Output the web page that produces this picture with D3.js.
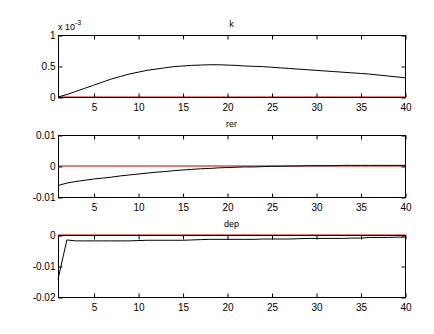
<!DOCTYPE html>
<html>
<head>
<meta charset="utf-8">
<script src="https://cdn.jsdelivr.net/npm/d3@7"></script>
<style>
  body { margin: 0; background: #fff; }
  text { font-family: "Liberation Sans", Arial, sans-serif; fill: #000; }
</style>
</head>
<body>
<div id="graph"></div>
<script>
// periods 1..40
var periods = d3.range(1, 41);
var xTicks = [5, 10, 15, 20, 25, 30, 35, 40];

// k is shown in units of 1e-3
var kValues = [0.00, 0.04, 0.09, 0.14, 0.19, 0.24, 0.29, 0.33, 0.37, 0.40,
               0.43, 0.45, 0.47, 0.49, 0.50, 0.51, 0.515, 0.52, 0.52, 0.515,
               0.51, 0.50, 0.495, 0.49, 0.48, 0.47, 0.46, 0.45, 0.44, 0.43,
               0.42, 0.41, 0.40, 0.39, 0.38, 0.37, 0.355, 0.34, 0.325, 0.31];
var rerValues = [-0.0063, -0.0055, -0.0050, -0.0046, -0.0042, -0.0039, -0.0036, -0.0032, -0.0029, -0.0026,
                 -0.0023, -0.0020, -0.0018, -0.0015, -0.0013, -0.0011, -0.0009, -0.0008, -0.0006, -0.0005,
                 -0.0004, -0.0003, -0.0003, -0.0002, -0.0001, -0.0001, 0.0000, 0.0000, 0.0001, 0.0001,
                 0.0001, 0.0001, 0.0002, 0.0002, 0.0002, 0.0002, 0.0002, 0.0002, 0.0002, 0.0002];
var depValues = [-0.0143, -0.0016, -0.0019, -0.0019, -0.0019, -0.0019, -0.0019, -0.0019, -0.0019, -0.0018,
                 -0.0017, -0.0017, -0.0017, -0.0017, -0.0017, -0.0016, -0.0015, -0.0014, -0.0014, -0.0014,
                 -0.0014, -0.0014, -0.0014, -0.0013, -0.0013, -0.0013, -0.0013, -0.0012, -0.0011, -0.0011,
                 -0.0011, -0.0011, -0.0011, -0.0010, -0.0010, -0.0008, -0.0008, -0.0008, -0.0007, -0.0007];

var titles = ["k", "rer", "dep"];
var yDomains = [[0, 1], [-0.01, 0.01], [-0.02, 0]];
var yTicks = [[0, 0.5, 1], [-0.01, 0, 0.01], [-0.02, -0.01, 0]];
var series = [kValues, rerValues, depValues];

var width = 434, height = 334;
var left = 58, right = 405, panelH = 62;
var tops = [35, 135, 235];

var svg = d3.select("#graph")
    .append("svg")
    .attr("width", width)
    .attr("height", height);

svg.append("rect").attr("width", width).attr("height", height).attr("fill", "#fff");

var x = d3.scaleLinear().domain([1, 40]).range([left, right]);

series.forEach(function (vals, i) {
    var top = tops[i];
    var y = d3.scaleLinear().domain(yDomains[i]).range([top + panelH, top]);
    var g = svg.append("g");

    // zero line
    g.append("line")
        .attr("x1", x(1)).attr("x2", x(40))
        .attr("y1", y(0)).attr("y2", y(0))
        .attr("stroke", "#c00000").attr("stroke-width", 1);

    // response line
    g.append("path")
        .datum(periods)
        .attr("fill", "none")
        .attr("stroke", "#000")
        .attr("stroke-width", 1)
        .attr("d", d3.line()
            .x(function (d) { return x(d); })
            .y(function (d, j) { return y(vals[j]); }));

    // box
    g.append("rect")
        .attr("x", left + 0.5).attr("y", top + 0.5)
        .attr("width", right - left).attr("height", panelH)
        .attr("fill", "none").attr("stroke", "#000").attr("stroke-width", 1);

    // axes, ticks pointing inward
    g.append("g")
        .attr("transform", "translate(0.5," + (top + panelH + 0.5) + ")")
        .call(d3.axisBottom(x).tickValues(xTicks).tickSize(-4).tickPadding(6));
    g.append("g")
        .attr("transform", "translate(0.5," + (top + 0.5) + ")")
        .call(d3.axisTop(x).tickValues(xTicks).tickSize(-4).tickFormat(""));
    g.append("g")
        .attr("transform", "translate(" + (left + 0.5) + ",0.5)")
        .call(d3.axisLeft(y).tickValues(yTicks[i]).tickSize(-4).tickPadding(3)
            .tickFormat(function (d) { return d === 0 ? "0" : String(d); }));
    g.append("g")
        .attr("transform", "translate(" + (right + 0.5) + ",0.5)")
        .call(d3.axisRight(y).tickValues(yTicks[i]).tickSize(-4).tickFormat(""));

    g.selectAll(".domain").remove();
    g.selectAll(".tick text").attr("font-size", 10)
        .attr("font-family", "'Liberation Sans', Arial, sans-serif");

    // title
    g.append("text")
        .attr("x", (left + right) / 2)
        .attr("y", top - 8)
        .attr("text-anchor", "middle")
        .attr("font-size", 9)
        .text(titles[i]);
});

// exponent label on the first panel
var expo = svg.append("text")
    .attr("x", left)
    .attr("y", 30)
    .attr("font-size", 9);
expo.append("tspan").text("x 10");
expo.append("tspan").attr("font-size", 7).attr("dy", -5).text("-3");
</script>
</body>
</html>
